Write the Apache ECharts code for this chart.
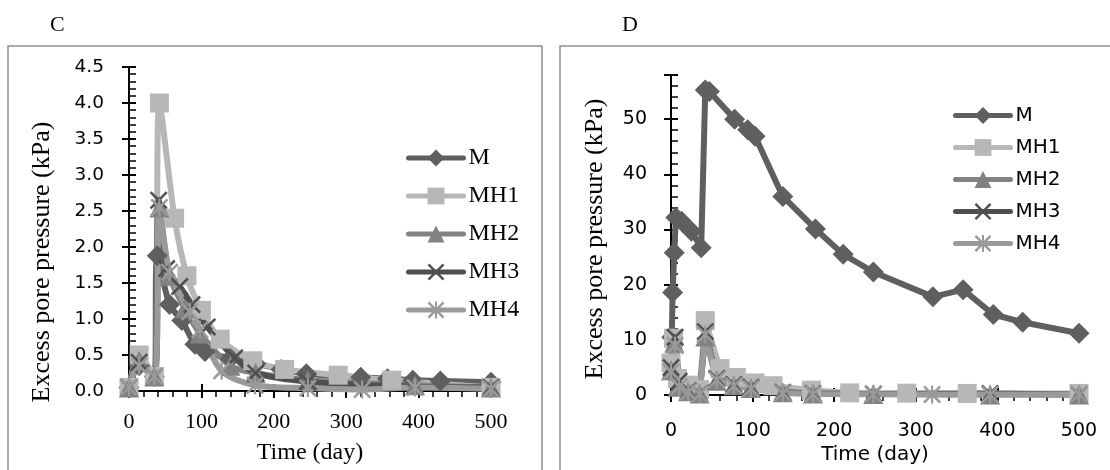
<!DOCTYPE html>
<html>
<head>
<meta charset="utf-8">
<script src="https://cdn.jsdelivr.net/npm/echarts@6/dist/echarts.min.js"></script>
<style>
html, body { margin: 0; padding: 0; background: #fff; }
#chart { width: 1110px; height: 470px; }
</style>
</head>
<body>
<div id="chart"></div>
<script>
// Series names (legend order)
const names = ['M', 'MH1', 'MH2', 'MH3', 'MH4']

// Panel C: time (day) and excess pore pressure (kPa)
const cDaysM = [0, 14, 35, 39, 56, 73, 91, 105, 140, 175, 210, 245, 320, 357, 392, 430, 500]
const cM = [0.05, 0.35, 0.2, 1.88, 1.2, 0.98, 0.65, 0.55, 0.45, 0.38, 0.3, 0.24, 0.19, 0.17, 0.15, 0.14, 0.12]
const cDaysMH1 = [0, 14, 35, 42, 63, 80, 100, 126, 171, 215, 289, 363, 500]
const cMH1 = [0.05, 0.5, 0.2, 4.0, 2.4, 1.6, 1.12, 0.72, 0.42, 0.3, 0.22, 0.15, 0.05]
const cDaysMH2 = [0, 14, 35, 42, 56, 77, 98, 140, 175, 247, 395, 500]
const cMH2 = [0.05, 0.42, 0.2, 2.55, 1.6, 1.15, 0.8, 0.35, 0.25, 0.15, 0.08, 0.05]
const cDaysMH3 = [0, 14, 35, 41, 52, 70, 87, 108, 146, 175, 247, 395, 500]
const cMH3 = [0.05, 0.4, 0.2, 2.65, 1.7, 1.45, 1.2, 0.89, 0.46, 0.25, 0.13, 0.06, 0.05]
const cDaysMH4 = [0, 14, 35, 42, 56, 84, 98, 128, 174, 247, 322, 395, 500]
const cMH4 = [0.05, 0.35, 0.2, 2.55, 1.65, 1.1, 0.85, 0.28, 0.08, 0.04, 0.02, 0.05, 0.03]

// Panel D
const dDaysM = [1, 2, 4, 6, 13, 25, 37, 42, 47, 78, 94, 103, 137, 177, 211, 248, 321, 358, 395, 431, 500]
const dM = [10.5, 18.6, 25.8, 32.2, 31.5, 29.7, 26.7, 55.3, 55.0, 50.0, 48.1, 46.9, 36.0, 30.1, 25.5, 22.3, 17.8, 19.1, 14.6, 13.2, 11.2]
const dDaysMH1 = [0, 3, 8, 21, 35, 42, 60, 80, 103, 125, 172, 219, 289, 363, 500]
const dMH1 = [5.8, 10.3, 3.0, 1.8, 1.0, 13.5, 4.8, 3.2, 2.2, 1.7, 0.9, 0.4, 0.35, 0.3, 0.3]
const dDaysMH2 = [0, 4, 8, 21, 35, 42, 56, 77, 98, 137, 174, 248, 391, 500]
const dMH2 = [4.5, 9.5, 1.5, 0.7, 0.3, 10.6, 2.6, 1.8, 1.3, 0.5, 0.3, 0.2, 0.1, 0.1]
const dDaysMH3 = [0, 5, 10, 21, 35, 42, 56, 77, 98, 137, 174, 248, 391, 500]
const dMH3 = [5.0, 10.5, 2.5, 0.8, 0.3, 11.5, 3.0, 1.9, 1.4, 0.5, 0.3, 0.2, 0.3, 0.1]
const dDaysMH4 = [0, 5, 10, 21, 35, 42, 56, 77, 98, 137, 174, 248, 320, 391, 500]
const dMH4 = [4.2, 9.0, 1.5, 0.6, 0.2, 11.0, 2.8, 1.7, 1.2, 0.4, 0.2, 0.15, 0.1, 0.1, 0.1]

const SERIF = 'Liberation Serif'
const SANS = 'DejaVu Sans'

// Excel-like markers: thin X, and X with a vertical bar (star)
const crossPath = 'path://M0,1L1,0L5,4L9,0L10,1L6,5L10,9L9,10L5,6L1,10L0,9L4,5Z'
const starPath = crossPath + 'M4.4,0L5.6,0L5.6,10L4.4,10Z'

const looks = {
  M: { color: '#5f5f5f', symbol: 'diamond', size: 21 },
  MH1: { color: '#b7b7b7', symbol: 'rect', size: 19 },
  MH2: { color: '#828282', symbol: 'triangle', size: 20 },
  MH3: { color: '#4f4f4f', symbol: crossPath, size: 18 },
  MH4: { color: '#9a9a9a', symbol: starPath, size: 18 },
}

const pairs = (days, vals) => days.map((d, i) => [d, vals[i]])

function line(name, days, vals, axis, smooth) {
  const l = looks[name]
  return {
    name,
    type: 'line',
    xAxisIndex: axis,
    yAxisIndex: axis,
    data: pairs(days, vals),
    smooth,
    symbol: l.symbol,
    symbolSize: l.size,
    lineStyle: { color: l.color, width: 6 },
    itemStyle: { color: l.color },
    animation: false,
  }
}

const blackLine = { color: '#000', width: 2 }

// main axis: labels + outer ticks; twin axis: inner ticks so major ticks cross the line
function xPair(grid, labelFont, labelSize, margin, nameFont, nameSize, nameGap) {
  return [
    {
      gridIndex: grid, type: 'value', min: 0, max: 500, interval: 100, position: 'bottom',
      axisLine: { lineStyle: blackLine },
      axisTick: { length: 7, lineStyle: blackLine },
      minorTick: { show: true, splitNumber: 5, length: 6, lineStyle: { color: '#000', width: 1.5 } },
      splitLine: { show: false },
      axisLabel: { fontFamily: labelFont, fontSize: labelSize, color: '#000', margin },
      name: 'Time (day)', nameLocation: 'middle', nameGap,
      nameTextStyle: { fontFamily: nameFont, fontSize: nameSize, color: '#000' },
    },
    {
      gridIndex: grid, type: 'value', min: 0, max: 500, interval: 100, position: 'bottom',
      axisLine: { show: false },
      axisTick: { inside: true, length: 7, lineStyle: blackLine },
      axisLabel: { show: false }, splitLine: { show: false },
    },
  ]
}

function yPair(grid, max, interval, fmt, labelSize, margin, nameGap, namePad) {
  return [
    {
      gridIndex: grid, type: 'value', min: 0, max, interval, position: 'left',
      axisLine: { lineStyle: blackLine },
      axisTick: { length: 7, lineStyle: blackLine },
      splitLine: { show: false },
      axisLabel: { fontFamily: SANS, fontSize: labelSize, color: '#000', margin, formatter: fmt },
      name: 'Excess pore pressure (kPa)', nameLocation: 'middle', nameGap,
      nameTextStyle: { fontFamily: SERIF, fontSize: 26, color: '#000', padding: [0, namePad, 0, 0] },
    },
    {
      gridIndex: grid, type: 'value', min: 0, max, interval, position: 'left',
      axisLine: { show: false },
      axisTick: { inside: true, length: 7, lineStyle: blackLine },
      minorTick: { show: true, splitNumber: 5, length: 7, lineStyle: { color: '#000', width: 1.5 } },
      axisLabel: { show: false }, splitLine: { show: false },
    },
  ]
}

const cx = xPair(0, SERIF, 22, 20, SERIF, 24, 50)
const dx = xPair(1, SANS, 19, 26, SANS, 20, 49)
const cy = yPair(0, 4.5, 0.5, v => v.toFixed(1), 18.5, 25, 74, 66)
const dy = yPair(1, 58, 10, v => (v % 10 === 0 ? String(v) : ''), 19, 24, 63, 8)

const legendLine = { width: 5, cap: 'round' }

const chart = echarts.init(document.getElementById('chart'))
chart.setOption({
  animation: false,
  title: [
    { text: 'C', left: 45, top: 9, textStyle: { fontFamily: SERIF, fontSize: 22, fontWeight: 'normal', color: '#000' } },
    { text: 'D', left: 617, top: 9, textStyle: { fontFamily: SERIF, fontSize: 22, fontWeight: 'normal', color: '#000' } },
  ],
  graphic: [
    { type: 'rect', shape: { x: 8, y: 46, width: 534, height: 500 }, style: { fill: 'none', stroke: '#8f8f8f', lineWidth: 1.5 }, z: -1 },
    { type: 'rect', shape: { x: 560, y: 46, width: 560, height: 500 }, style: { fill: 'none', stroke: '#8f8f8f', lineWidth: 1.5 }, z: -1 },
  ],
  grid: [
    { left: 129, top: 67, width: 362, height: 324 },
    { left: 671, top: 75, width: 408, height: 325 },
  ],
  legend: [
    {
      data: names, orient: 'vertical', left: 406, top: 146, padding: 0,
      itemWidth: 55, itemHeight: 21, itemGap: 14, lineStyle: legendLine,
      textStyle: { fontFamily: SERIF, fontSize: 24, color: '#000', lineHeight: 21 },
    },
    {
      data: names, orient: 'vertical', left: 953, top: 105, padding: 0,
      itemWidth: 55, itemHeight: 21, itemGap: 11, lineStyle: legendLine,
      textStyle: { fontFamily: SANS, fontSize: 20, color: '#000', lineHeight: 21 },
    },
  ],
  xAxis: [...cx, ...dx],
  yAxis: [...cy, ...dy],
  series: [
    line('M', cDaysM, cM, 0, 0.3),
    line('MH1', cDaysMH1, cMH1, 0, 0.3),
    line('MH2', cDaysMH2, cMH2, 0, 0.3),
    line('MH3', cDaysMH3, cMH3, 0, 0.3),
    line('MH4', cDaysMH4, cMH4, 0, 0.3),
    line('M', dDaysM, dM, 2, false),
    line('MH1', dDaysMH1, dMH1, 2, false),
    line('MH2', dDaysMH2, dMH2, 2, false),
    line('MH3', dDaysMH3, dMH3, 2, false),
    line('MH4', dDaysMH4, dMH4, 2, false),
  ],
})
</script>
</body>
</html>
